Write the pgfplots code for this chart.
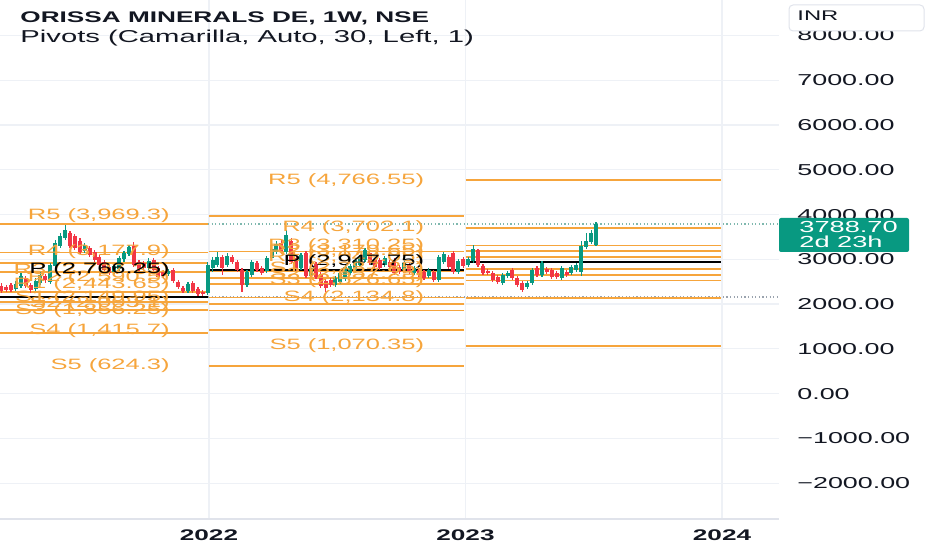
\documentclass[border=0pt]{standalone}
\usepackage{fontspec}
\setmainfont{Liberation Sans}[FakeStretch=1.7]
\usepackage{pgfplots}
\pgfplotsset{compat=1.18}
\usepackage{pgfplotstable}
\definecolor{tvgreen}{HTML}{089981}
\definecolor{tvred}{HTML}{F23645}
\definecolor{pivo}{HTML}{F6A53C}
\definecolor{gridc}{HTML}{EEF1F6}
\definecolor{tvtext}{HTML}{131722}
\definecolor{axline}{HTML}{E0E3EB}
\definecolor{dotg}{HTML}{9AA3AE}
\definecolor{dott}{HTML}{7FB8AE}

% weekly candles, x = years since 2021.0 ; columns t open high low close
\pgfplotstableread{
t o h l c
0.247 2338 2516 2293 2449
0.267 2405 2695 2360 2628
0.324 2338 2583 2293 2516
0.343 2472 2717 2427 2650
0.382 2494 2919 2449 2874
0.401 2852 3433 2807 3365
0.420 3298 3589 3254 3522
0.439 3477 3768 3433 3656
0.516 3187 3365 3142 3321
0.631 2717 2896 2673 2852
0.650 2784 3075 2740 3030
0.669 3008 3187 2941 3142
0.688 3120 3321 3075 3276
0.765 2807 3030 2762 2963
0.842 2673 2784 2628 2740
0.918 2293 2494 2248 2449
0.995 2248 2941 2203 2874
1.014 2807 3053 2717 2986
1.033 2874 3164 2829 3053
1.072 2874 3142 2829 3075
1.148 2427 2762 2382 2717
1.167 2650 2986 2606 2941
1.225 2740 3075 2695 3030
1.244 3030 3276 2986 3231
1.263 3164 3410 3120 3343
1.302 3164 3656 3120 3544
1.359 2807 3142 2762 3097
1.397 2628 2852 2583 2807
1.493 2427 2628 2382 2583
1.512 2494 2740 2449 2695
1.531 2561 2874 2516 2829
1.551 2695 2896 2650 2852
1.570 2762 3030 2717 2986
1.589 2874 3097 2829 3053
1.608 2986 3254 2941 3209
1.685 2874 3075 2829 3030
1.761 2762 2963 2717 2919
1.800 2695 2852 2650 2807
1.857 2628 2807 2583 2762
1.896 2539 3097 2494 3053
1.915 2941 3164 2896 3120
1.972 2717 3008 2673 2963
2.011 2874 3053 2829 3008
2.030 2963 3321 2919 3231
2.145 2472 2695 2427 2650
2.164 2628 2740 2583 2695
2.241 2382 2516 2338 2472
2.260 2472 2807 2427 2762
2.298 2650 2963 2606 2919
2.375 2583 2852 2539 2807
2.413 2695 2874 2650 2829
2.432 2762 2919 2717 2874
2.451 2717 3410 2628 3298
2.471 3276 3589 3231 3410
2.490 3388 3656 3343 3589
2.509 3321 3835 3298 3788.7
}\upT

\pgfplotstableread{
t o h l c
0.190 2405 2472 2248 2293
0.209 2382 2427 2270 2315
0.228 2427 2472 2270 2315
0.286 2583 2628 2360 2405
0.305 2427 2472 2248 2315
0.362 2628 2673 2472 2539
0.458 3589 3634 3254 3298
0.477 3522 3567 3209 3254
0.497 3410 3477 3120 3164
0.535 3254 3298 3053 3097
0.554 3164 3209 2941 2986
0.573 3053 3097 2829 2874
0.592 2941 2986 2717 2762
0.612 2829 2874 2650 2695
0.707 3298 3388 2829 2874
0.727 2941 2986 2740 2784
0.746 2919 2963 2762 2807
0.784 2986 3030 2717 2762
0.803 2807 2852 2561 2606
0.822 2717 2762 2583 2628
0.861 2762 2807 2472 2516
0.880 2494 2539 2338 2382
0.899 2360 2405 2248 2293
0.937 2472 2516 2248 2293
0.957 2338 2382 2181 2226
0.976 2270 2315 2181 2226
1.052 3053 3097 2650 2807
1.091 3053 3097 2896 2941
1.110 2941 2986 2717 2762
1.129 2762 2807 2270 2427
1.187 2919 2963 2717 2762
1.206 2807 2852 2650 2695
1.282 3365 3433 3120 3164
1.321 3410 3477 2896 2941
1.340 3030 3075 2740 2784
1.378 3142 3187 2583 2628
1.417 2896 2941 2561 2606
1.436 2673 2717 2360 2405
1.455 2516 2561 2270 2360
1.474 2539 2583 2382 2427
1.627 3142 3187 2874 2919
1.646 2986 3030 2784 2829
1.666 2986 3030 2762 2807
1.704 2941 2986 2784 2829
1.723 2986 3030 2650 2695
1.742 2829 2874 2673 2717
1.781 2874 2919 2673 2717
1.819 2762 2807 2606 2650
1.838 2717 2762 2539 2583
1.876 2717 2762 2494 2539
1.934 3053 3097 2784 2829
1.953 3142 3187 2673 2717
1.991 3008 3053 2807 2852
2.049 3209 3231 2829 2874
2.068 2852 2896 2650 2695
2.087 2740 2784 2650 2695
2.106 2695 2740 2494 2539
2.126 2606 2650 2449 2494
2.183 2762 2807 2539 2583
2.202 2583 2628 2382 2427
2.221 2472 2516 2270 2315
2.279 2807 2852 2606 2650
2.317 2784 2829 2673 2717
2.336 2762 2807 2561 2606
2.356 2695 2740 2561 2606
2.394 2717 2762 2606 2650
}\downT

\newcommand{\pivfont}{\fontsize{7.5}{9}\selectfont}
\newcommand{\pv}[4][pivo]{\addplot[draw=#1, line width=0.85pt, mark=none, forget plot] coordinates {(#2,#4) (#3,#4)};}
\newcommand{\pl}[4][pivo]{\node[anchor=east, inner sep=0pt, text=#1, font=\pivfont] at (axis cs:#2,#3) {#4};}
\newcommand{\px}[2]{({(#1)*0.5pt},{(550-(#2))*0.5pt})}

\begin{document}
\begin{tikzpicture}
\path[use as bounding box] (0,0) rectangle (466pt,275pt);
\begin{axis}[
  at={(0pt,15.5pt)}, anchor=south west,
  scale only axis, width=389.5pt, height=259.5pt,
  xmin=0.1852, xmax=3.2222, ymin=-2802, ymax=8795,
  axis line style={draw=none},
  tick style={draw=none}, major tick length=0pt,
  xtick={1,2,3}, xticklabels={\textbf{2022},\textbf{2023},\textbf{2024}},
  ytick={-2000,-1000,...,8000},
  yticklabels={−2000.00,−1000.00,0.00,1000.00,2000.00,3000.00,4000.00,5000.00,6000.00,7000.00,8000.00},
  yticklabel pos=right,
  grid=major, major grid style={draw=gridc, line width=0.6pt},
  xticklabel style={font=\fontsize{7.7}{9}\selectfont, text=tvtext, anchor=base, inner sep=0pt, yshift=-11pt},
  yticklabel style={font=\fontsize{7.9}{9}\selectfont, text=tvtext, anchor=west, inner sep=0pt, xshift=9pt},
]
% price lines
\addplot[draw=dott, mark=none, line width=0.6pt, dash pattern=on 0.6pt off 1.2pt, forget plot] coordinates {(0,3788.7) (3.3,3788.7)};
\addplot[draw=dotg, mark=none, line width=0.6pt, dash pattern=on 0.6pt off 1.2pt, forget plot] coordinates {(0,2160) (3.3,2160)};
% pivots of the 2021 period (from 2020)
\pv{0}{0.996}{3790}
\pv{0}{0.996}{3150}
\pv{0}{0.996}{2925}
\pv{0}{0.996}{2724}
\pv{0}{0.996}{2277}
\pv[black]{0}{0.996}{2152}
\pv{0}{0.996}{2040}
\pv{0}{0.996}{1868}
\pv{0}{0.996}{1354}
% pivots of the 2022 period (from 2021)
\pv{1.0}{1.996}{3969.3}
\pv{1.0}{1.996}{3177.9}
\pv{1.0}{1.996}{2737.35}
\pv{1.0}{1.996}{2590.5}
\pv{1.0}{1.996}{2443.65}
\pv[black]{1.0}{1.996}{2766.25}
\pv{1.0}{1.996}{2149.95}
\pv{1.0}{1.996}{2003.1}
\pv{1.0}{1.996}{1856.25}
\pv{1.0}{1.996}{1415.7}
\pv{1.0}{1.996}{624.3}
% pivots of the 2023 period (from 2022)
\pv{2.0}{2.996}{4766.55}
\pv{2.0}{2.996}{3702.1}
\pv{2.0}{2.996}{3310.25}
\pv{2.0}{2.996}{3179.65}
\pv{2.0}{2.996}{3049.05}
\pv[black]{2.0}{2.996}{2947.75}
\pv{2.0}{2.996}{2787.85}
\pv{2.0}{2.996}{2657.25}
\pv{2.0}{2.996}{2526.65}
\pv{2.0}{2.996}{2134.8}
\pv{2.0}{2.996}{1070.35}
% candles: wicks
\addplot[draw=none, mark=none, forget plot, error bars/.cd, y dir=both, y explicit, error mark=none,
  error bar style={draw=tvgreen, line width=0.6pt}]
  table[x=t, y expr={(\thisrow{h}+\thisrow{l})/2}, y error expr={(\thisrow{h}-\thisrow{l})/2}] {\upT};
\addplot[draw=none, mark=none, forget plot, error bars/.cd, y dir=both, y explicit, error mark=none,
  error bar style={draw=tvred, line width=0.6pt}]
  table[x=t, y expr={(\thisrow{h}+\thisrow{l})/2}, y error expr={(\thisrow{h}-\thisrow{l})/2}] {\downT};
% candles: bodies
\addplot[draw=none, mark=none, forget plot, error bars/.cd, y dir=both, y explicit, error mark=none,
  error bar style={draw=tvgreen, line width=2pt}]
  table[x=t, y expr={(\thisrow{o}+\thisrow{c})/2}, y error expr={abs(\thisrow{c}-\thisrow{o})/2}] {\upT};
\addplot[draw=none, mark=none, forget plot, error bars/.cd, y dir=both, y explicit, error mark=none,
  error bar style={draw=tvred, line width=2pt}]
  table[x=t, y expr={(\thisrow{o}+\thisrow{c})/2}, y error expr={abs(\thisrow{o}-\thisrow{c})/2}] {\downT};
% labels of 2022-period pivots (left of their lines)
\pl{0.848}{3969.3}{R5 (3,969.3)}
\pl{0.848}{3177.9}{R4 (3,177.9)}
\pl{0.848}{2737.35}{R3 (2,737.35)}
\pl{0.848}{2590.5}{R2 (2,590.5)}
\pl{0.848}{2443.65}{R1 (2,443.65)}
\pl[black]{0.848}{2766.25}{P (2,766.25)}
\pl{0.848}{2149.95}{S1 (2,149.95)}
\pl{0.848}{2003.1}{S2 (2,003.1)}
\pl{0.848}{1856.25}{S3 (1,856.25)}
\pl{0.848}{1415.7}{S4 (1,415.7)}
\pl{0.848}{624.3}{S5 (624.3)}
% labels of 2023-period pivots
\pl{1.840}{4766.55}{R5 (4,766.55)}
\pl{1.840}{3702.1}{R4 (3,702.1)}
\pl{1.840}{3310.25}{R3 (3,310.25)}
\pl{1.840}{3179.65}{R2 (3,179.65)}
\pl{1.840}{3049.05}{R1 (3,049.05)}
\pl[black]{1.840}{2947.75}{P (2,947.75)}
\pl{1.840}{2787.85}{S1 (2,787.85)}
\pl{1.840}{2657.25}{S2 (2,657.25)}
\pl{1.840}{2526.65}{S3 (2,526.65)}
\pl{1.840}{2134.8}{S4 (2,134.8)}
\pl{1.840}{1070.35}{S5 (1,070.35)}
\end{axis}
% time axis line
\draw[axline, line width=0.6pt] (0,15.5pt) -- (389.5pt,15.5pt);
% titles
\node[anchor=base west, inner sep=0pt, text=tvtext, font=\bfseries\fontsize{7.7}{9}\selectfont] at \px{20}{23} {ORISSA MINERALS DE, 1W, NSE};
\node[anchor=base west, inner sep=0pt, text=tvtext, font=\fontsize{8.6}{10}\selectfont] at \px{20}{43} {Pivots (Camarilla, Auto, 30, Left, 1)};
% currency box
\draw[axline, fill=white, line width=0.5pt, rounded corners=2pt] \px{789}{5} rectangle \px{924}{31};
\node[anchor=base west, inner sep=0pt, text=tvtext, font=\fontsize{7}{9}\selectfont] at \px{797}{21} {INR};
% last price box
\fill[tvgreen, rounded corners=1pt] \px{779}{218} rectangle \px{909}{252};
\node[anchor=base west, inner sep=0pt, text=white, font=\fontsize{8}{9}\selectfont] at \px{799}{232.5} {3788.70};
\node[anchor=base west, inner sep=0pt, text=white, font=\fontsize{8}{9}\selectfont] at \px{799}{247.5} {2d 23h};
\end{tikzpicture}
\end{document}
